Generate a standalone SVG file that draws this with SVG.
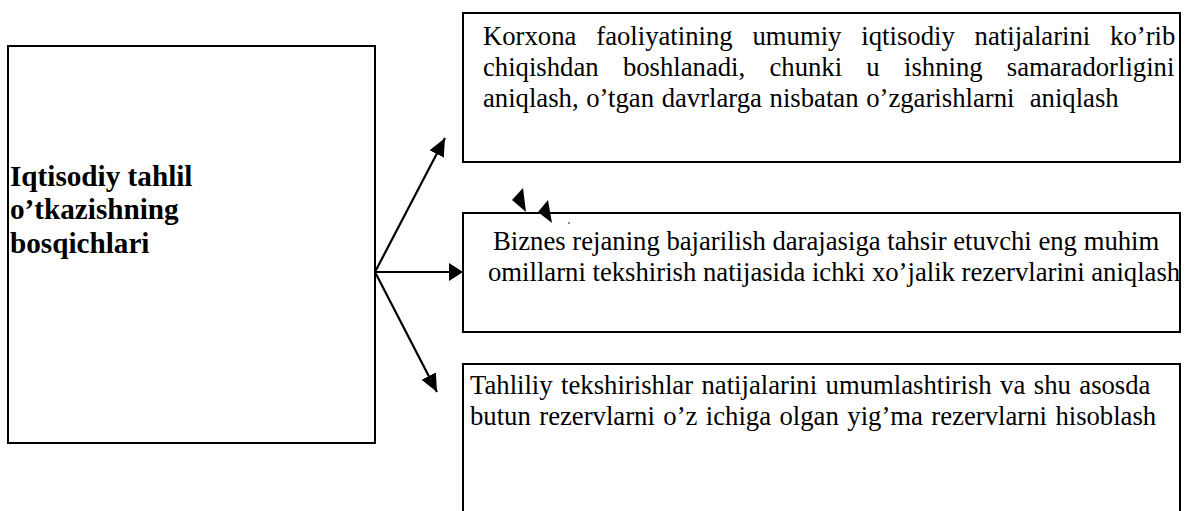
<svg xmlns="http://www.w3.org/2000/svg" width="1185" height="511" viewBox="0 0 1185 511">
<style>
.box{fill:#fff;stroke:#000;stroke-width:2}
.t{font-family:"Liberation Serif","Times New Roman",serif;font-size:26.7px;fill:#000}
.b{font-family:"Liberation Serif","Times New Roman",serif;font-size:29.2px;font-weight:bold;fill:#000}
.c{stroke:#000;stroke-width:2.2;fill:none}
</style>
<defs>
<marker id="ah" markerUnits="userSpaceOnUse" markerWidth="22" markerHeight="22" refX="18" refY="8" orient="auto">
<path d="M0,0 L18,8 L0,16 Z" fill="#000"/>
</marker>
<marker id="ah2" markerUnits="userSpaceOnUse" markerWidth="22" markerHeight="22" refX="14" refY="9" orient="auto">
<path d="M0,0 L14,9 L0,18 Z" fill="#000"/>
</marker>
</defs>
<rect width="1185" height="511" fill="#fff"/>
<g id="node-main">
<rect class="box" x="8" y="46" width="367" height="397"/>
<text class="b" x="10" y="186">Iqtisodiy tahlil</text>
<text class="b" x="10" y="219">o’tkazishning</text>
<text class="b" x="10" y="253">bosqichlari</text>
</g>
<g id="node-1">
<rect class="box" x="463" y="13" width="717" height="149"/>
<text class="t" x="483" y="45" word-spacing="13.2">Korxona faoliyatining umumiy iqtisodiy natijalarini ko’rib</text>
<text class="t" x="483" y="76" word-spacing="17.6">chiqishdan boshlanadi, chunki u ishning samaradorligini</text>
<text class="t" x="483" y="107" word-spacing="1" xml:space="preserve" style="white-space:pre">aniqlash, o’tgan davrlarga nisbatan o’zgarishlarni  aniqlash</text>
</g>
<g id="node-2">
<rect class="box" x="463" y="213" width="717" height="119"/>
<text class="t" x="493" y="250">Biznes rejaning bajarilish darajasiga tahsir etuvchi eng muhim</text>
<text class="t" x="488" y="281">omillarni tekshirish natijasida ichki xo’jalik rezervlarini aniqlash</text>
</g>
<g id="node-3">
<rect class="box" x="463" y="364" width="717" height="160"/>
<text class="t" x="470" y="394" word-spacing="1.8">Tahliliy tekshirishlar natijalarini umumlashtirish va shu asosda</text>
<text class="t" x="470" y="425" word-spacing="1.8">butun rezervlarni o’z ichiga olgan yig’ma rezervlarni hisoblash</text>
</g>
<g id="connectors">
<line class="c" x1="375" y1="272" x2="445" y2="138" marker-end="url(#ah)"/>
<line class="c" x1="375" y1="272" x2="463" y2="272" stroke-width="3.4" marker-end="url(#ah2)"/>
<line class="c" x1="375" y1="272" x2="437" y2="392" marker-end="url(#ah)"/>
<polygon points="512,200 523,188 526,212" fill="#000"/>
<polygon points="538,212 548,200 552,223" fill="#000"/>
<circle cx="569" cy="223" r="0.8" fill="#000"/>
</g>
</svg>
